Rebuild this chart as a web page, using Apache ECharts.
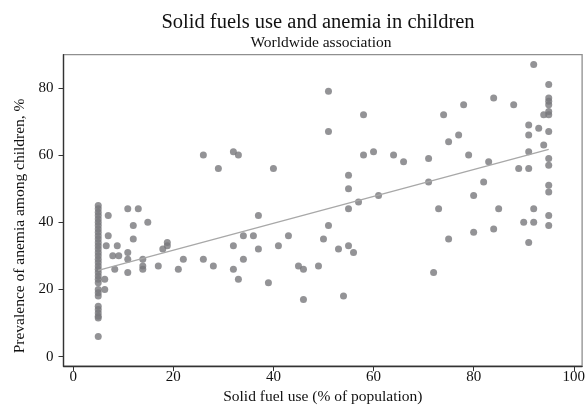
<!DOCTYPE html>
<html>
<head>
<meta charset="utf-8">
<script src="https://cdn.jsdelivr.net/npm/echarts@6/dist/echarts.min.js"></script>
<style>
  html, body { margin: 0; padding: 0; background: #fff; }
  #main { width: 588px; height: 410px; }
</style>
</head>
<body>
<div id="main"></div>
<script>
// 固体燃料使用率 (x) 与儿童贫血率 (y)
var fuelUse = [
  5, 5, 5, 5, 5, 5, 5, 5, 5, 5, 5, 5, 5, 5, 5, 5, 5, 5, 5, 5, 5, 5, 5, 5, 5, 5, 5, 5, 5, 5, 5, 5, 5,
  7, 7, 6.6, 6.3, 6.3, 8.8, 7.9, 9.1, 8.3,
  10.9, 13, 14.9, 12, 12, 10.9, 10.9, 10.9, 13.9, 13.9, 13.9, 17, 17.9, 18.8, 18.8, 21, 22, 26, 26,
  28, 29, 32, 33, 32, 32, 33, 34, 34, 36, 37, 37, 39, 40, 41, 43, 45, 46, 46, 49, 50, 51, 51, 51,
  53, 54, 55, 55, 55, 55, 56, 57, 58, 58, 60, 61, 64, 66, 71, 71, 72, 73, 74, 75, 75, 77, 78, 79,
  80, 80, 82, 83, 84, 84, 85, 88, 89, 90, 91, 91, 91, 91, 91, 92, 92, 92, 93, 94, 94,
  95, 95, 95, 95, 95, 95, 95, 95, 95, 95, 95, 95, 95
];
var anemia = [
  45, 44, 43, 42, 41, 40, 39, 38, 37, 36, 35, 34, 33, 32, 31, 30, 29, 28, 27, 26, 25, 24, 23, 22, 20, 19, 18, 15, 14, 13, 12, 11.5, 6,
  42, 36, 33, 23, 20, 33, 30, 30, 26,
  44, 44, 40, 39, 35, 31, 29, 25, 29, 27, 26, 27, 32, 34, 33, 26, 29, 29, 60,
  27, 56, 61, 60, 33, 26, 23, 36, 29, 36, 42, 32, 22, 56, 33, 36, 27, 26, 17, 27, 35, 39, 67, 79,
  32, 18, 54, 50, 44, 33, 31, 46, 60, 72, 61, 48, 60, 58, 59, 52, 25, 44, 72, 64, 35, 66, 75, 60,
  48, 37, 52, 58, 77, 38, 44, 75, 56, 40, 69, 66, 61, 56, 34, 87, 44, 40, 68, 63, 72,
  81, 77, 76, 75, 73, 72, 67, 59, 57, 51, 49, 42, 39
];
// 拟合直线两端
var fitX = [5, 95];
var fitY = [25.7, 61.7];
var xTicks = [0, 20, 40, 60, 80, 100];
var yTicks = [0, 20, 40, 60, 80];

var points = fuelUse.map(function (x, i) { return [x, anemia[i]]; });
var fitLine = fitX.map(function (x, i) { return [x, fitY[i]]; });

var serif = 'Liberation Serif';
var myChart = echarts.init(document.getElementById('main'));
var option = {
  animation: false,
  title: [
    {
      text: 'Solid fuels use and anemia in children',
      left: 318, top: 12, textAlign: 'center', padding: 0,
      textStyle: { fontFamily: serif, fontSize: 20.5, fontWeight: 'normal', color: '#111' }
    },
    {
      text: 'Worldwide association',
      left: 321, top: 35, textAlign: 'center', padding: 0,
      textStyle: { fontFamily: serif, fontSize: 15.5, fontWeight: 'normal', color: '#111' }
    }
  ],
  grid: {
    left: 63.5, right: 2.3, top: 54.7, bottom: 41.7,
    show: true, borderColor: '#8f8f8f', borderWidth: 1.3, backgroundColor: '#fff'
  },
  xAxis: {
    type: 'value', min: -1.94, max: 101.67,
    name: 'Solid fuel use (% of population)',
    nameLocation: 'middle', nameGap: 17,
    nameTextStyle: { fontFamily: serif, fontSize: 15.5, color: '#111' },
    axisLine: { show: true, onZero: false, lineStyle: { color: '#333', width: 1.3 } },
    axisTick: { show: true, length: 5, customValues: xTicks, lineStyle: { color: '#333' } },
    axisLabel: { customValues: xTicks, fontFamily: serif, fontSize: 15, color: '#111', margin: 3 },
    splitLine: { show: false }
  },
  yAxis: {
    type: 'value', min: -2.84, max: 89.9,
    name: 'Prevalence of anemia among children, %',
    nameLocation: 'middle', nameGap: 36,
    nameTextStyle: { fontFamily: serif, fontSize: 15.5, color: '#111', padding: [0, 31, 0, 0] },
    axisLine: { show: true, onZero: false, lineStyle: { color: '#333', width: 1.3 } },
    axisTick: { show: true, length: 5, customValues: yTicks, lineStyle: { color: '#333' } },
    axisLabel: { customValues: yTicks, fontFamily: serif, fontSize: 15, color: '#111', margin: 10 },
    splitLine: { show: false }
  },
  series: [
    {
      type: 'scatter',
      data: points,
      symbol: 'circle',
      symbolSize: 7,
      itemStyle: { color: '#78787c' }
    },
    {
      type: 'line',
      data: fitLine,
      symbol: 'none',
      z: 3,
      lineStyle: { color: '#a8a8a8', width: 1.3 }
    }
  ]
};
myChart.setOption(option);
</script>
</body>
</html>
